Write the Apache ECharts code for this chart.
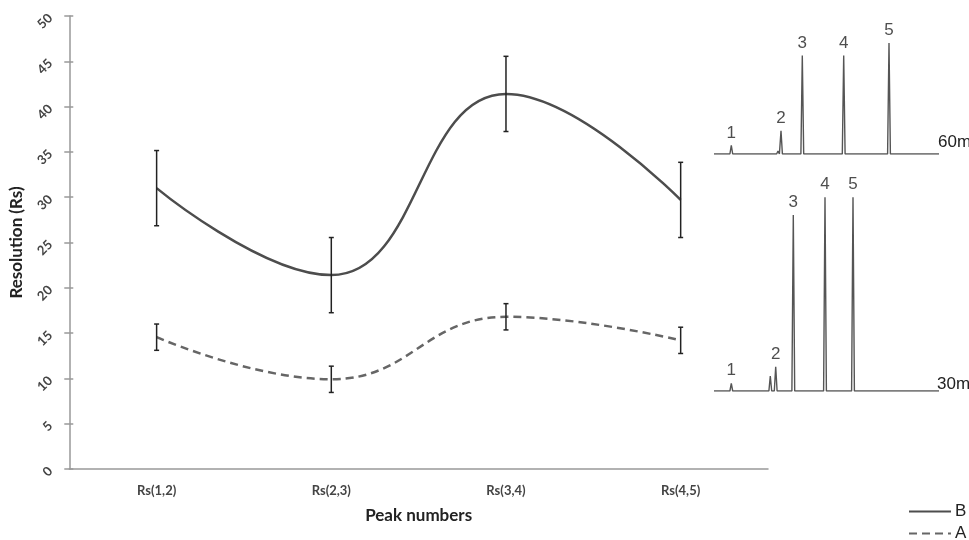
<!DOCTYPE html>
<html><head><meta charset="utf-8">
<script src="https://cdn.jsdelivr.net/npm/echarts@6/dist/echarts.min.js"></script>
<style>html,body{margin:0;padding:0;background:#fff}#c{width:969px;height:540px}</style>
</head><body><div id="c"></div>
<script>
// ---- main chart data ----
const categories = ['Rs(1,2)', 'Rs(2,3)', 'Rs(3,4)', 'Rs(4,5)'];
const seriesB = [31.0, 21.4, 41.4, 29.7];
const errB = [4.15, 4.15, 4.15, 4.15];
const seriesA = [14.55, 9.9, 16.8, 14.2];
const errA = [1.45, 1.45, 1.45, 1.45];
const yMin = 0, yMax = 50, yStep = 5;

// ---- inset chromatograms (arbitrary retention / intensity units) ----
const peakLabels = ['1', '2', '3', '4', '5'];
const chrom60Time = [17.3, 28.7, 34.3, 56, 64, 67, 88.3, 129.7, 175];
const chrom60Height = [8.6, 1.5, 1.3, 2, 3, 23.3, 98.6, 98.6, 111];
const chrom60LabelIdx = [0, 5, 6, 7, 8];
const chrom30Time = [17.3, 34, 56.3, 61.7, 79.3, 102.7, 111, 139];
const chrom30Height = [7.7, 1, 15, 24.3, 176, 1, 193.7, 193.7];
const chrom30LabelIdx = [0, 3, 4, 6, 7];
const chromTimeMax = 225;

function buildTrace(times, heights) {
  const pts = [[0, 0]];
  const hw = 1.4;
  times.forEach((t, i) => {
    pts.push([t - hw, 0], [t, heights[i]], [t + hw, 0]);
  });
  pts.push([chromTimeMax, 0]);
  return pts;
}
function buildLabels(times, heights, idx) {
  return idx.map((k, j) => ({ value: [times[k], heights[k]], name: peakLabels[j] }));
}
function errData(vals, errs) {
  return vals.map((v, i) => [i, v - errs[i], v + errs[i]]);
}
function errorRender(params, api) {
  const lo = api.coord([api.value(0), api.value(1)]);
  const hi = api.coord([api.value(0), api.value(2)]);
  const hw = 2.5;
  const style = { stroke: '#222', lineWidth: 1.5 };
  return { type: 'group', children: [
    { type: 'line', shape: { x1: lo[0], y1: lo[1], x2: hi[0], y2: hi[1] }, style },
    { type: 'line', shape: { x1: lo[0] - hw, y1: lo[1], x2: lo[0] + hw, y2: lo[1] }, style },
    { type: 'line', shape: { x1: hi[0] - hw, y1: hi[1], x2: hi[0] + hw, y2: hi[1] }, style }
  ]};
}

const axisFont = 'Lato, "Open Sans", sans-serif';
const insetFont = '"Liberation Sans", Arial, sans-serif';
const peakLabelStyle = { show: true, position: 'top', distance: 4, formatter: p => p.name,
  fontSize: 17, color: '#222', fontFamily: insetFont };
const legendBase = {
  orient: 'horizontal', left: 908, padding: 0,
  itemWidth: 42, itemHeight: 14, itemGap: 8,
  itemStyle: { opacity: 0 },
  textStyle: { fontSize: 17, color: '#222', fontFamily: insetFont, padding: [0, 0, 0, -1] }
};

const chart = echarts.init(document.getElementById('c'), null, { renderer: 'canvas' });
chart.setOption({
  animation: false,
  backgroundColor: '#fff',
  grid: [
    { left: 67, right: 201, top: 16, bottom: 71 },
    { left: 714, width: 225, top: 34, height: 120 },
    { left: 714, width: 225, top: 191, height: 200 }
  ],
  legend: [
    Object.assign({}, legendBase, { data: ['B'], top: 503 }),
    Object.assign({}, legendBase, { data: ['A'], top: 525 })
  ],
  xAxis: [
    { type: 'category', gridIndex: 0, data: categories, boundaryGap: true,
      axisLine: { lineStyle: { color: '#999', width: 1.5 } },
      axisTick: { show: false },
      axisLabel: { margin: 15, fontSize: 13, fontWeight: 'bold', color: '#444', fontFamily: axisFont },
      name: 'Peak numbers', nameLocation: 'middle', nameGap: 38,
      nameTextStyle: { fontSize: 17, fontWeight: 'bold', color: '#222', fontFamily: axisFont } },
    { type: 'value', gridIndex: 1, min: 0, max: chromTimeMax, show: false },
    { type: 'value', gridIndex: 2, min: 0, max: chromTimeMax, show: false }
  ],
  yAxis: [
    { type: 'value', gridIndex: 0, min: yMin, max: yMax, interval: yStep, position: 'left',
      axisLine: { show: true, lineStyle: { color: '#999', width: 1.5 } },
      axisTick: { show: true, length: 5, lineStyle: { color: '#999', width: 1.5 } },
      splitLine: { show: false },
      axisLabel: { rotate: 45, margin: 19, fontSize: 13, fontWeight: 'bold', color: '#444', fontFamily: axisFont },
      name: 'Resolution (Rs)', nameLocation: 'middle', nameGap: 37,
      nameTextStyle: { fontSize: 17, fontWeight: 'bold', color: '#222', fontFamily: axisFont } },
    { type: 'value', gridIndex: 0, min: yMin, max: yMax, interval: yStep, position: 'left',
      axisLine: { show: false }, axisLabel: { show: false }, splitLine: { show: false },
      axisTick: { show: true, inside: true, length: 4, lineStyle: { color: '#999', width: 1.5 } } },
    { type: 'value', gridIndex: 1, min: 0, max: 120, show: false },
    { type: 'value', gridIndex: 2, min: 0, max: 200, show: false }
  ],
  graphic: [
    { type: 'text', left: 938, top: 134, style: { text: '60m', fontSize: 17, fill: '#222', fontFamily: insetFont } },
    { type: 'text', left: 937, top: 376, style: { text: '30m', fontSize: 17, fill: '#222', fontFamily: insetFont } }
  ],
  series: [
    { name: 'B', type: 'line', xAxisIndex: 0, yAxisIndex: 0, data: seriesB, smooth: 0.45,
      symbol: 'none', lineStyle: { color: '#4d4d4d', width: 2.5 }, itemStyle: { color: '#4d4d4d' }, z: 3 },
    { name: 'A', type: 'line', xAxisIndex: 0, yAxisIndex: 0, data: seriesA, smooth: 0.45,
      symbol: 'none', lineStyle: { color: '#666', width: 2.5, type: [8, 5] }, itemStyle: { color: '#666' }, z: 3 },
    { name: 'errB', type: 'custom', xAxisIndex: 0, yAxisIndex: 0, data: errData(seriesB, errB),
      renderItem: errorRender, encode: { x: 0, y: [1, 2] }, z: 4, silent: true },
    { name: 'errA', type: 'custom', xAxisIndex: 0, yAxisIndex: 0, data: errData(seriesA, errA),
      renderItem: errorRender, encode: { x: 0, y: [1, 2] }, z: 4, silent: true },
    { name: 'chrom60', type: 'line', xAxisIndex: 1, yAxisIndex: 2, data: buildTrace(chrom60Time, chrom60Height),
      symbol: 'none', lineStyle: { color: '#555', width: 1.4 }, silent: true },
    { name: 'chrom60Labels', type: 'scatter', xAxisIndex: 1, yAxisIndex: 2, symbolSize: 0,
      data: buildLabels(chrom60Time, chrom60Height, chrom60LabelIdx), label: peakLabelStyle, silent: true },
    { name: 'chrom30', type: 'line', xAxisIndex: 2, yAxisIndex: 3, data: buildTrace(chrom30Time, chrom30Height),
      symbol: 'none', lineStyle: { color: '#555', width: 1.4 }, silent: true },
    { name: 'chrom30Labels', type: 'scatter', xAxisIndex: 2, yAxisIndex: 3, symbolSize: 0,
      data: buildLabels(chrom30Time, chrom30Height, chrom30LabelIdx), label: peakLabelStyle, silent: true }
  ]
});
</script>
</body></html>
